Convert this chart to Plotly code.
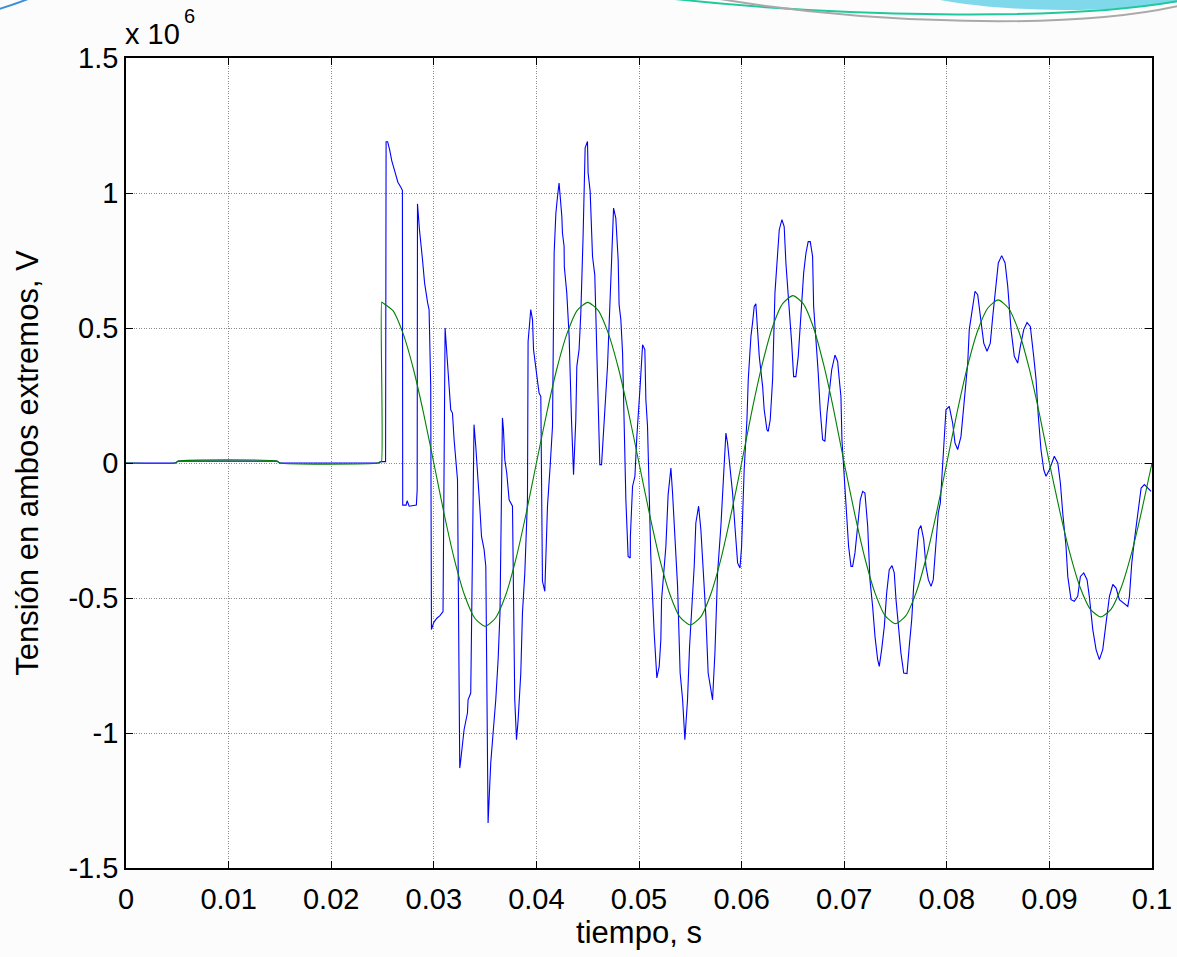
import plotly.graph_objects as go

# ---------------- data (time in ms, voltage in units of 10^6 V) ----------------
t_blue_ms = [0, 4.8, 5.1, 14.7, 15.0, 24.6, 24.85, 25.3, 25.35, 25.5, 25.7, 25.9, 26.2, 26.5, 26.8, 26.94,
             26.97, 27.3, 27.4, 27.6, 28.3, 28.38, 28.41, 28.6, 28.9, 29.1, 29.4, 29.54, 29.7, 29.77,
             30.0, 30.3, 30.6, 30.9, 31.1, 31.26, 31.39, 31.49, 31.65, 31.82, 31.98, 32.31, 32.53, 32.63,
             32.79, 32.95, 33.28, 33.34, 33.60, 33.92, 34.09, 34.25, 34.48, 34.65, 34.90, 35.07, 35.29,
             35.39, 35.55, 35.78, 36.04, 36.27, 36.45, 36.69, 36.79, 36.92, 37.11, 37.34, 37.67, 37.89,
             38.06, 38.22, 38.48, 38.64, 38.87, 39.13, 39.19, 39.45, 39.62, 39.72, 40.01, 40.26, 40.43,
             40.59, 40.82, 40.92, 41.08, 41.34, 41.57, 41.73, 41.90, 42.06, 42.21, 42.48, 42.54, 42.70,
             42.72, 42.96, 43.19, 43.42, 43.62, 43.84, 43.94, 44.16, 44.33, 44.55, 44.75, 44.98, 45.04,
             45.24, 45.37, 45.47, 45.69, 45.96, 46.18, 46.35, 46.67, 46.93, 47.32, 47.52, 47.74, 47.97,
             48.06, 48.23, 48.40, 48.62, 48.72, 48.94, 49.14, 49.16, 49.37, 49.60, 49.79, 50.11, 50.35,
             50.57, 50.67, 50.83, 51.15, 51.48, 51.74, 51.97, 52.13, 52.20, 52.62, 52.84, 53.11, 53.27,
             53.52, 53.76, 54.01, 54.25, 54.47, 54.73, 54.93, 55.15, 55.38, 55.54, 55.81, 56.03, 56.29,
             56.52, 56.74, 57.01, 57.17, 57.40, 57.66, 57.98, 58.24, 58.47, 58.63, 58.89, 59.12, 59.35,
             59.61, 59.84, 60.00, 60.25, 60.52, 60.65, 60.91, 61.07, 61.23, 61.39, 61.56, 61.72, 62.05,
             62.20, 62.47, 62.59, 62.79, 63.02, 63.25, 63.44, 63.67, 63.93, 64.15, 64.32, 64.49, 64.64,
             64.88, 65.07, 65.29, 65.52, 65.78, 66.05, 66.27, 66.49, 66.69, 66.92, 67.02, 67.25, 67.47,
             67.66, 67.90, 68.12, 68.32, 68.54, 68.78, 69.10, 69.36, 69.52, 69.68, 69.78, 70.01, 70.27,
             70.43, 70.66, 70.82, 71.05, 71.31, 71.57, 71.80, 72.02, 72.29, 72.51, 72.77, 73.00, 73.26,
             73.42, 73.65, 73.91, 74.14, 74.39, 74.66, 74.88, 75.05, 75.27, 75.53, 75.80, 76.12, 76.34,
             76.58, 76.77, 77.00, 77.26, 77.48, 77.75, 77.97, 78.20, 78.46, 78.68, 78.94, 79.17, 79.37,
             79.60, 79.76, 79.92, 80.24, 80.57, 80.80, 81.06, 81.38, 81.71, 82.04, 82.19, 82.53, 82.75,
             83.01, 83.27, 83.60, 83.92, 84.24, 84.48, 84.80, 85.02, 85.35, 85.68, 85.94, 86.26, 86.58,
             86.91, 87.17, 87.50, 87.82, 88.14, 88.47, 88.70, 88.92, 89.18, 89.45, 89.67, 90.00, 90.48,
             90.82, 91.07, 91.30, 91.62, 91.79, 92.11, 92.43, 92.76, 93.02, 93.35, 93.67, 93.89, 94.23,
             94.55, 94.87, 95.20, 95.52, 95.85, 96.18, 96.50, 96.82, 97.31, 97.64, 97.80, 98.03, 98.29,
             98.62, 98.94, 99.26, 99.59, 99.91]
v_blue = [0, 0, 0.007, 0.007, 0, 0, 0.005, 0.005, 1.19, 1.19, 1.16, 1.12, 1.08, 1.04, 1.02, 1.01,
          -0.156, -0.156, -0.14, -0.16, -0.156, -0.10, 0.96, 0.865, 0.753, 0.667, 0.593, 0.568, 0.284, -0.617,
          -0.59, -0.575, -0.565, -0.55, 0.5, 0.42, 0.358, 0.284, 0.197, 0.185, 0.086, -0.062, -1.13, -1.10,
          -1.05, -0.988, -0.926, -0.877, -0.852, 0.142, 0.062, -0.05, -0.16, -0.272, -0.32, -0.383, -1.333,
          -1.247, -1.111, -1.0, -0.877, -0.728, -0.556, 0.167, 0.123, 0.012, -0.037, -0.136, -0.16, -0.877,
          -1.025, -0.951, -0.778, -0.556, -0.407, -0.136, 0.45, 0.568, 0.531, 0.42, 0.321, 0.259, 0.247,
          -0.438, -0.475, -0.321, -0.16, -0.012, 0.136, 0.778, 0.926, 0.988, 1.037, 0.913, 0.852, 0.802,
          0.728, 0.63, 0.469, 0.16, -0.043, 0.16, 0.358, 0.42, 0.556, 0.839, 1.167, 1.191, 1.074,
          1.006, 0.901, 0.765, 0.697, 0.284, -0.006, -0.006, 0.21, 0.358, 0.741, 0.944, 0.907, 0.753,
          0.586, 0.531, 0.407, 0.0, -0.136, -0.346, -0.352, -0.272, -0.087, -0.05, 0.099, 0.284, 0.438,
          0.42, 0.234, 0.136, -0.346, -0.63, -0.796, -0.753, -0.654, -0.506, -0.309, -0.117, -0.019, -0.111,
          -0.296, -0.457, -0.778, -0.877, -1.025, -0.877, -0.679, -0.531, -0.383, -0.222, -0.16, -0.247, -0.407,
          -0.568, -0.778, -0.852, -0.877, -0.704, -0.407, -0.235, -0.037, 0.111, 0.074, -0.012, -0.111, -0.235,
          -0.37, -0.389, -0.309, -0.025, 0.16, 0.31, 0.47, 0.52, 0.58, 0.59, 0.48, 0.395, 0.284,
          0.198, 0.123, 0.117, 0.16, 0.308, 0.63, 0.753, 0.864, 0.901, 0.876, 0.74, 0.654, 0.543,
          0.444, 0.32, 0.32, 0.395, 0.555, 0.704, 0.777, 0.82, 0.82, 0.765, 0.58, 0.469, 0.333,
          0.197, 0.086, 0.08, 0.185, 0.26, 0.345, 0.40, 0.376, 0.309, 0.247, 0.086, -0.062, -0.186,
          -0.309, -0.383, -0.383, -0.333, -0.235, -0.136, -0.105, -0.111, -0.235, -0.432, -0.531, -0.642, -0.728,
          -0.753, -0.691, -0.605, -0.481, -0.395, -0.38, -0.407, -0.506, -0.605, -0.704, -0.778, -0.78, -0.679,
          -0.58, -0.457, -0.358, -0.247, -0.232, -0.284, -0.383, -0.432, -0.457, -0.432, -0.3, -0.185, -0.148,
          0.0, 0.098, 0.197, 0.21, 0.148, 0.074, 0.05, 0.098, 0.246, 0.37, 0.494, 0.593, 0.636,
          0.623, 0.543, 0.444, 0.414, 0.444, 0.543, 0.667, 0.741, 0.768, 0.741, 0.654, 0.494, 0.395,
          0.37, 0.432, 0.494, 0.52, 0.506, 0.395, 0.309, 0.173, 0.049, -0.025, -0.049, -0.025, 0.025,
          0.0, -0.074, -0.185, -0.309, -0.42, -0.506, -0.512, -0.494, -0.42, -0.407, -0.432, -0.494, -0.617,
          -0.691, -0.728, -0.691, -0.593, -0.494, -0.45, -0.463, -0.506, -0.519, -0.531, -0.494, -0.37, -0.284,
          -0.185, -0.093, -0.08, -0.093, -0.105]

t_green_ms = [0, 4.8, 5.1, 14.7, 15.0, 24.55, 24.8, 24.9, 24.92, 25, 26, 27, 28, 29,
              30, 31, 32, 33, 34, 35, 36, 37, 38, 39, 40, 41, 42, 43, 44, 45, 46, 47, 48, 49,
              50, 51, 52, 53, 54, 55, 56, 57, 58, 59, 60, 61, 62, 63, 64, 65, 66, 67, 68, 69,
              70, 71, 72, 73, 74, 75, 76, 77, 78, 79, 80, 81, 82, 83, 84, 85, 86, 87, 88, 89,
              90, 91, 92, 93, 94, 95, 96, 97, 98, 99, 100]
v_green = [0, 0, 0.007, 0.007, 0, 0, 0.005, 0.005, 0.596, 0.594, 0.565, 0.48, 0.35, 0.185,
           0.0, -0.187, -0.356, -0.49, -0.575, -0.605, -0.575, -0.49, -0.356, -0.187,
           0.0, 0.184, 0.35, 0.481, 0.566, 0.595, 0.566, 0.481, 0.35, 0.184,
           0.0, -0.185, -0.353, -0.485, -0.571, -0.6, -0.571, -0.485, -0.353, -0.185,
           0.0, 0.192, 0.364, 0.502, 0.59, 0.62, 0.59, 0.502, 0.364, 0.192,
           0.0, -0.184, -0.35, -0.481, -0.566, -0.595, -0.566, -0.481, -0.35, -0.184,
           0.0, 0.187, 0.355, 0.489, 0.574, 0.604, 0.574, 0.489, 0.355, 0.187,
           0.0, -0.176, -0.335, -0.461, -0.542, -0.57, -0.542, -0.461, -0.335, -0.176, 0.0]

x_tick_vals = [0, 0.01, 0.02, 0.03, 0.04, 0.05, 0.06, 0.07, 0.08, 0.09, 0.1]
x_tick_text = ["0", "0.01", "0.02", "0.03", "0.04", "0.05", "0.06", "0.07", "0.08", "0.09", "0.1"]
y_tick_vals = [-1.5, -1, -0.5, 0, 0.5, 1, 1.5]
y_tick_text = ["-1.5", "-1", "-0.5", "0", "0.5", "1", "1.5"]

x_title = "tiempo, s"
y_title = "Tensión en ambos extremos, V"
exp_base = "x 10"
exp_power = "6"

# --------------------------------------------------------------------------
W, H = 1177, 957
L, R, T, B = 126, 25, 58, 89
FONT = "Liberation Sans, Arial, sans-serif"
TICK_SIZE = 29
TITLE_SIZE = 31

fig = go.Figure()
fig.add_trace(go.Scatter(x=[t / 1000 for t in t_blue_ms], y=v_blue, mode="lines",
                         line=dict(color="#0000ff", width=1.1), showlegend=False))
fig.add_trace(go.Scatter(x=[t / 1000 for t in t_green_ms], y=v_green, mode="lines",
                         line=dict(color="#008000", width=1.1, shape="spline", smoothing=0.6),
                         showlegend=False))

axis_common = dict(showline=True, linecolor="black", linewidth=1.6, mirror="allticks",
                   ticks="inside", ticklen=7, tickcolor="black", tickwidth=1.3,
                   showgrid=True, gridcolor="#8c8c8c", griddash="1px,1.5px", gridwidth=1,
                   zeroline=False, tickfont=dict(family=FONT, size=TICK_SIZE, color="black"),
                   automargin=False)

fig.update_xaxes(range=[0, 0.1], tickmode="array", tickvals=x_tick_vals, ticktext=x_tick_text,
                 title=dict(text=x_title, font=dict(family=FONT, size=TITLE_SIZE, color="black"),
                            standoff=2),
                 ticklabelstandoff=4,
                 **axis_common)
fig.update_yaxes(range=[-1.5, 1.5], tickmode="array", tickvals=y_tick_vals, ticktext=y_tick_text,
                 title=dict(text=y_title, font=dict(family=FONT, size=TITLE_SIZE, color="black"),
                            standoff=21),
                 **axis_common)


def P(px, py):
    return f"{(px - L) / (W - L - R):.5f},{((H - B) - py) / (H - T - B):.5f}"


shapes = [
    dict(type="path", xref="paper", yref="paper", layer="below",
         path=f"M {P(935, -1)} C {P(1000, 12)} {P(1100, 14)} {P(1178, 2)} L {P(1178, -1)} Z",
         fillcolor="#7fd9ea", line=dict(width=0)),
    dict(type="path", xref="paper", yref="paper", layer="below",
         path=f"M {P(675, -1)} C {P(830, 16)} {P(1060, 22)} {P(1178, 1)}",
         line=dict(color="#1fc99b", width=2)),
    dict(type="path", xref="paper", yref="paper", layer="below",
         path=f"M {P(720, -1)} C {P(870, 24)} {P(1070, 30)} {P(1178, 6)}",
         line=dict(color="#a9a9a9", width=2)),
    dict(type="path", xref="paper", yref="paper", layer="below",
         path=f"M {P(-1, 9)} C {P(9, 6)} {P(18, 3)} {P(28, -1)}",
         line=dict(color="#3b8fd9", width=2)),
]

fig.update_layout(
    width=W, height=H, autosize=False,
    margin=dict(l=L, r=R, t=T, b=B, pad=0),
    paper_bgcolor="#fcfcfc", plot_bgcolor="white",
    font=dict(family=FONT, size=TICK_SIZE, color="black"),
    shapes=shapes,
    annotations=[
        dict(text=exp_base, xref="paper", yref="paper", x=0, y=1,
             xanchor="left", yanchor="bottom", xshift=-3, yshift=6, showarrow=False,
             font=dict(family=FONT, size=TICK_SIZE, color="black")),
        dict(text=exp_power, xref="paper", yref="paper", x=0, y=1,
             xanchor="left", yanchor="bottom", xshift=56, yshift=29, showarrow=False,
             font=dict(family=FONT, size=20, color="black")),
    ],
)

fig.write_html("out.html")
